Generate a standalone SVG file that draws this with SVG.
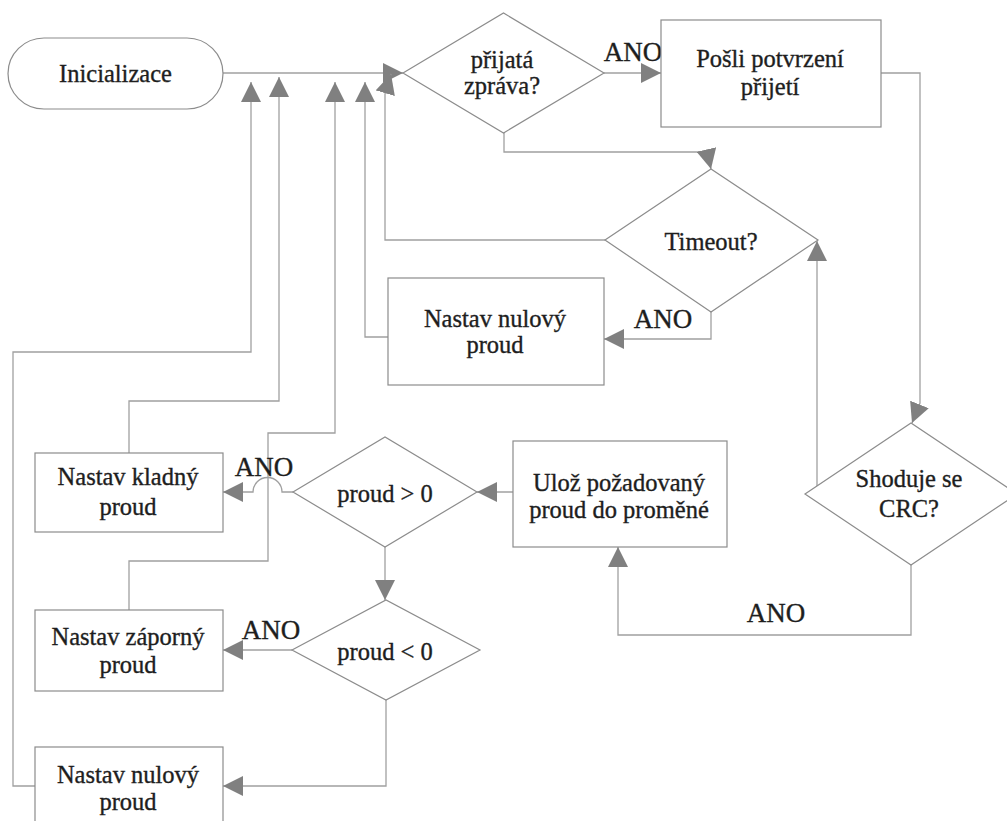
<svg xmlns="http://www.w3.org/2000/svg" width="1007" height="821" viewBox="0 0 1007 821">
  <style>
    .shape { fill: #ffffff; stroke: #8c8c8c; stroke-width: 1.2; }
    .link { fill: none; stroke: #a0a0a0; stroke-width: 1.3; marker-end: url(#arrow); }
    text { font-family: 'Liberation Serif', 'Times New Roman', serif; fill: #1e1e1e; stroke: #1e1e1e; stroke-width: 0.35; text-anchor: middle; }
    .label { font-size: 24.5px; }
    .yes { font-size: 27px; }
  </style>
  <defs>
    <marker id="arrow" markerUnits="userSpaceOnUse" viewBox="0 0 20 20" markerWidth="20" markerHeight="20" refX="20" refY="10" orient="auto">
      <path d="M0,0 L20,10 L0,20 z" fill="#808080"/>
    </marker>
  </defs>
  <rect width="1007" height="821" fill="#ffffff"/>

  <!-- connectors and their ANO labels -->
  <g id="connectors">
    <path class="link" d="M223,73 H403"/>
    <path class="link" d="M604,73 H661"/>
    <path class="link" d="M504,133 V152 H707 L711,169"/>
    <path class="link" d="M881,73 H920 V403 L912,423"/>
    <path class="link" d="M911,565 V635 H618 V547"/>
    <path class="link" d="M817,488 V241"/>
    <path class="link" d="M711,312 V339 H604"/>
    <path class="link" d="M605,240 H385 V94 L391,74"/>
    <path class="link" d="M388,337 H365 V82"/>
    <path class="link" d="M513,492 H477"/>
    <!-- line hop over the vertical return line -->
    <path class="link" d="M293,492 H282 A14.5,14.5 0 0 0 253,492 H223"/>
    <path class="link" d="M385,547 V600"/>
    <path class="link" d="M292,650 H223"/>
    <path class="link" d="M386,700 V786 H223"/>
    <path class="link" d="M129,453 V401 H279 V77"/>
    <path class="link" d="M129,610 V561 H268 V433 H335 V82"/>
    <path class="link" d="M35,786 H13 V352 H251 V82"/>
    <text class="yes" x="633" y="61">ANO</text>
    <text class="yes" x="663" y="328">ANO</text>
    <text class="yes" x="264" y="476">ANO</text>
    <text class="yes" x="271" y="639">ANO</text>
    <text class="yes" x="776" y="622">ANO</text>
  </g>

  <g id="start">
    <rect class="shape" x="8" y="38" width="215" height="71" rx="36" ry="36"/>
    <text class="label" x="115.5" y="82">Inicializace</text>
  </g>

  <g id="received">
    <polygon class="shape" points="403,73 503.5,13 604,73 503.5,133"/>
    <text class="label" x="502" y="67.5">přijatá</text>
    <text class="label" x="502" y="94">zpráva?</text>
  </g>

  <g id="ack">
    <rect class="shape" x="661" y="20" width="220" height="107"/>
    <text class="label" x="770" y="67">Pošli potvrzení</text>
    <text class="label" x="770" y="95">přijetí</text>
  </g>

  <g id="timeout">
    <polygon class="shape" points="605,240 711,169 818,240 711,312"/>
    <text class="label" x="711" y="250">Timeout?</text>
  </g>

  <g id="zero-timeout">
    <rect class="shape" x="388" y="278" width="216" height="107"/>
    <text class="label" x="495" y="327">Nastav nulový</text>
    <text class="label" x="495" y="353">proud</text>
  </g>

  <g id="crc">
    <polygon class="shape" points="805,494 911,423 1017,494 911,565"/>
    <text class="label" x="909" y="487">Shoduje se</text>
    <text class="label" x="909" y="517">CRC?</text>
  </g>

  <g id="store">
    <rect class="shape" x="513" y="441" width="214" height="106"/>
    <text class="label" x="619" y="491">Ulož požadovaný</text>
    <text class="label" x="619" y="518">proud do proměné</text>
  </g>

  <g id="positive">
    <polygon class="shape" points="293,492 385,437 477,492 385,547"/>
    <text class="label" x="385" y="502">proud &gt; 0</text>
  </g>

  <g id="negative">
    <polygon class="shape" points="292,650 386,600 480,650 386,700"/>
    <text class="label" x="385" y="660">proud &lt; 0</text>
  </g>

  <g id="set-positive">
    <rect class="shape" x="35" y="453" width="188" height="79"/>
    <text class="label" x="128" y="485">Nastav kladný</text>
    <text class="label" x="128" y="515">proud</text>
  </g>

  <g id="set-negative">
    <rect class="shape" x="35" y="610" width="188" height="81"/>
    <text class="label" x="128" y="645">Nastav záporný</text>
    <text class="label" x="128" y="673">proud</text>
  </g>

  <g id="set-zero">
    <rect class="shape" x="35" y="747" width="188" height="81"/>
    <text class="label" x="128" y="783">Nastav nulový</text>
    <text class="label" x="128" y="810">proud</text>
  </g>
</svg>
